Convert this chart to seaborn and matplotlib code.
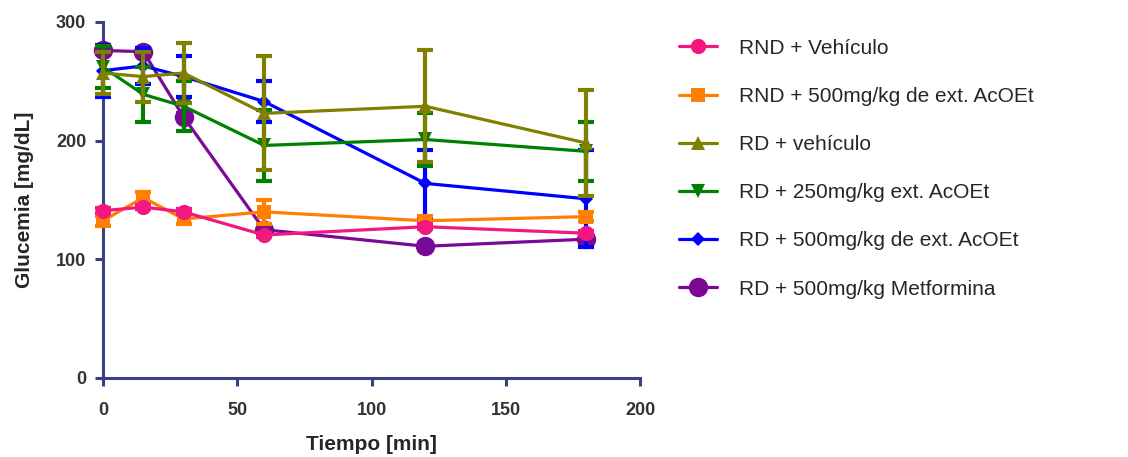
import matplotlib
matplotlib.use("Agg")
import matplotlib.pyplot as plt
import seaborn as sns
import pandas as pd

# tiempo (min)
time = [0, 15, 30, 60, 120, 180]

# glucemia media y error por grupo
rnd_veh = [141, 144, 140, 120.5, 127.5, 122]
rnd_veh_err = [2, 2, 2, 2, 2, 2]
rnd_500 = [132.5, 152, 134, 140, 132.5, 136]
rnd_500_err = [4, 5, 4, 10, 4, 4]
rd_veh = [257, 254, 257, 223, 229, 198]
rd_veh_err = [18, 21, 25, 48, 47, 45]
rd_250 = [262, 239, 229, 196, 201, 191]
rd_250_err = [18, 23, 21, 30, 22, 25]
rd_500 = [259, 263, 254, 233, 164, 151]
rd_500_err = [22, 15, 17, 17, 28, 41]
rd_met = [276, 275, 220, 125, 111, 117]
rd_met_err = [3, 3, 3, 3, 3, 3]

labels = ["RND + Vehículo", "RND + 500mg/kg de ext. AcOEt", "RD + vehículo",
          "RD + 250mg/kg ext. AcOEt", "RD + 500mg/kg de ext. AcOEt",
          "RD + 500mg/kg Metformina"]
values = [rnd_veh, rnd_500, rd_veh, rd_250, rd_500, rd_met]
errors = [rnd_veh_err, rnd_500_err, rd_veh_err, rd_250_err, rd_500_err, rd_met_err]
colors = ["#f2187f", "#ff8000", "#808000", "#008000", "#0000ff", "#7a0a96"]
markers = ["o", "s", "^", "v", "D", "o"]
msizes = [11, 10, 10, 10, 7, 14]

sns.set_style("white")
plt.rcParams["font.family"] = ["Liberation Sans", "DejaVu Sans"]

fig = plt.figure(figsize=(11.28, 4.57), dpi=100)
ax = fig.add_axes([103 / 1128, 1 - 378 / 457, (640 - 103) / 1128, (378 - 22) / 457])

# orden de dibujo: morado al fondo, rosa encima
draw_order = [5, 4, 3, 2, 1, 0]
for i in draw_order:
    df = pd.DataFrame({"t": time, "g": values[i]})
    ax.errorbar(time, values[i], yerr=errors[i], fmt="none", ecolor=colors[i],
                elinewidth=3, capsize=5.5, capthick=3, zorder=2 + (5 - i))
    sns.lineplot(data=df, x="t", y="g", ax=ax, color=colors[i], marker=markers[i],
                 markersize=msizes[i], markeredgecolor=colors[i], markeredgewidth=0,
                 linewidth=2.3, zorder=2 + (5 - i), label=labels[i])

h, l = ax.get_legend_handles_labels()
ax.get_legend().remove()
order = [l.index(lab) for lab in labels]
fig.legend([h[k] for k in order], [l[k] for k in order], loc="upper left",
           bbox_to_anchor=(660 / 1128, 1 - 20 / 457), frameon=False,
           fontsize=15, labelspacing=1.4, handlelength=1.85, handletextpad=1.05)

ax.set_xlim(0, 200)
ax.set_ylim(0, 300)
ax.set_xticks([0, 50, 100, 150, 200])
ax.set_yticks([0, 100, 200, 300])
ax.spines["top"].set_visible(False)
ax.spines["right"].set_visible(False)
for s in ["left", "bottom"]:
    ax.spines[s].set_color("#3a3f88")
    ax.spines[s].set_linewidth(2.2)
    ax.spines[s].set_zorder(1)
ax.tick_params(axis="both", direction="out", length=6, width=2.2, color="#3a3f88",
               labelsize=13, labelcolor="#333333", left=True, bottom=True)
ax.tick_params(axis="x", pad=11)
ax.tick_params(axis="y", pad=6)
for t in ax.get_xticklabels() + ax.get_yticklabels():
    t.set_fontweight("bold")
ax.set_xlabel("Tiempo [min]", fontsize=15, fontweight="bold", labelpad=12)
ax.set_ylabel("Glucemia [mg/dL]", fontsize=15, fontweight="bold", labelpad=16)
for art in ax.lines + ax.collections:
    art.set_clip_on(False)

fig.savefig("out.png", dpi=100)
